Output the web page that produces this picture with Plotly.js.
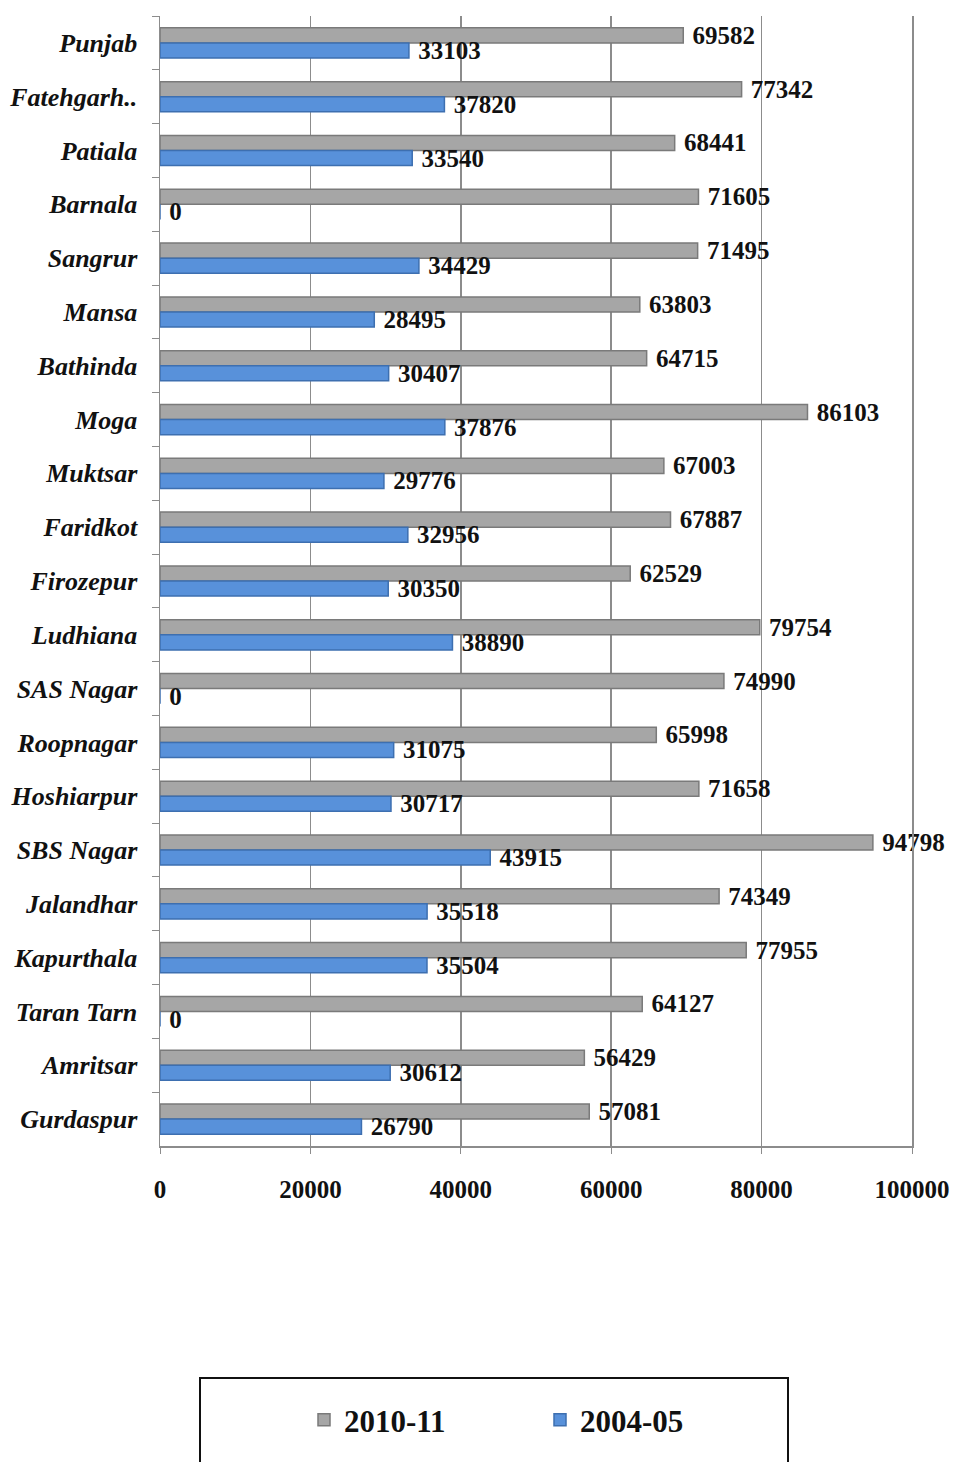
<!DOCTYPE html>
<html>
<head>
<meta charset="utf-8">
<script src="https://cdn.plot.ly/plotly-3.0.1.min.js"></script>
<style>html,body{margin:0;padding:0;background:#fff;}#chart{width:954px;height:1462px;}</style>
</head>
<body>
<div id="chart"></div>
<script>
const districts = ["Punjab","Fatehgarh..","Patiala","Barnala","Sangrur","Mansa","Bathinda","Moga","Muktsar","Faridkot","Firozepur","Ludhiana","SAS Nagar","Roopnagar","Hoshiarpur","SBS Nagar","Jalandhar","Kapurthala","Taran Tarn","Amritsar","Gurdaspur"];
const values2010 = [69582,77342,68441,71605,71495,63803,64715,86103,67003,67887,62529,79754,74990,65998,71658,94798,74349,77955,64127,56429,57081];
const values2004 = [33103,37820,33540,0,34429,28495,30407,37876,29776,32956,30350,38890,0,31075,30717,43915,35518,35504,0,30612,26790];
const xTicks = [0,20000,40000,60000,80000,100000];
const seriesNames = ["2010-11","2004-05"];

const SERIF = "Liberation Serif, Times New Roman, serif";
const labelFont = {family:SERIF, size:25, color:"#111", weight:"bold"};

const traces = [
  {type:"bar", orientation:"h", name:seriesNames[0], y:districts, x:values2010,
   marker:{color:"#a6a6a6", line:{color:"#7a7a7a", width:1.5}},
   text:values2010.map(String), texttemplate:"\u00a0%{text}", textposition:"outside", cliponaxis:false,
   textfont:labelFont, constraintext:"none", hoverinfo:"x+y"},
  {type:"bar", orientation:"h", name:seriesNames[1], y:districts, x:values2004,
   marker:{color:"#5891da", line:{color:"#3d6fb0", width:1.5}},
   text:values2004.map(String), texttemplate:"\u00a0%{text}", textposition:"outside", cliponaxis:false,
   textfont:labelFont, constraintext:"none", hoverinfo:"x+y"}
];

const L = 160, R = 912, T = 16, B = 1146;
const px2x = p => (p - L) / (R - L);
const px2y = p => (B - p) / (B - T);

const layout = {
  width:954, height:1462,
  margin:{l:L, r:954-R, t:T, b:1462-B},
  paper_bgcolor:"#ffffff", plot_bgcolor:"#ffffff",
  barmode:"group", bargap:0.44, bargroupgap:0,
  showlegend:true,
  font:{family:SERIF, color:"#111"},
  xaxis:{range:[0,100000], tickvals:xTicks, ticktext:xTicks.map(String),
    showgrid:true, gridcolor:"#8c8c8c", gridwidth:1.5, zeroline:false,
    showline:true, linecolor:"#8c8c8c", linewidth:1.5,
    ticks:"outside", ticklen:6, tickcolor:"#8c8c8c",
    ticklabelstandoff:14,
    tickfont:{family:SERIF, size:25, color:"#111", weight:"bold"}},
  yaxis:{type:"category", autorange:"reversed", showgrid:false, zeroline:false,
    showline:true, mirror:true, linecolor:"#8c8c8c", linewidth:1.5,
    ticks:"outside", tickson:"boundaries", ticklen:7, tickcolor:"#8c8c8c",
    ticklabelstandoff:16,
    tickfont:{family:SERIF, size:26, color:"#111", style:"italic", weight:"bold"}},
  legend:{orientation:"h", x:px2x(304), xanchor:"left", y:px2y(1420), yanchor:"middle",
    bgcolor:"rgba(0,0,0,0)", borderwidth:0, entrywidth:191, itemwidth:30,
    font:{family:SERIF, size:31, color:"#111", weight:"bold"}},
  shapes:[
    {type:"rect", xref:"paper", yref:"paper", x0:px2x(200), x1:px2x(788), y0:px2y(1378), y1:px2y(1475),
     line:{color:"#111", width:2}, fillcolor:"rgba(0,0,0,0)", layer:"below"}
  ]
};

Plotly.newPlot("chart", traces, layout, {displayModeBar:false, staticPlot:true});
</script>
</body>
</html>
